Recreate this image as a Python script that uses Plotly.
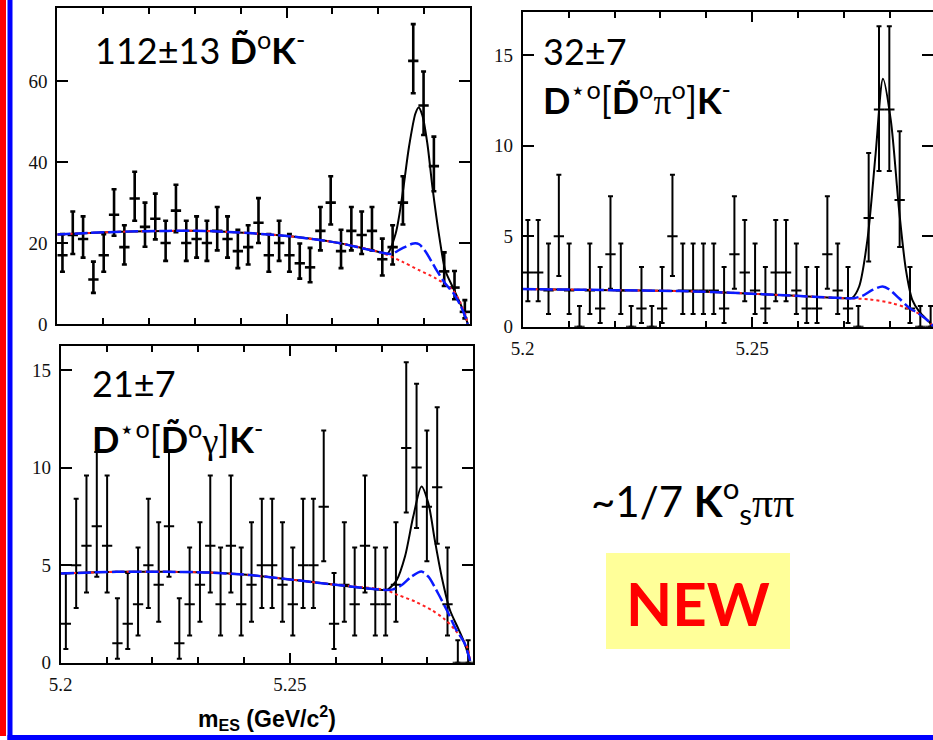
import numpy as np
import plotly.graph_objects as go

W, H = 933, 740

# ---------------- data ----------------
# m_ES binning (GeV/c^2): 40 bins from 5.20 to 5.29
mes_edges = np.linspace(5.2, 5.29, 41)
mes_centers = 0.5 * (mes_edges[:-1] + mes_edges[1:])
half_bin = 0.5 * (mes_edges[1] - mes_edges[0])

# Panel 1: D0 K-
dk_counts = [17, 22, 21, 11, 17, 27, 19, 31, 24, 26,
             20, 28, 20, 21, 20, 23, 21, 18, 19, 25,
             17, 20, 17, 15, 14, 23, 30, 18, 23, 22,
             23, 16, 19, 30, 65, 54, 39, 13, 9, 3]
dk_err_up = [5.2, 5.8, 5.6, 4.4, 5.2, 6.3, 5.4, 6.6, 6.0, 6.2,
             5.5, 6.4, 5.5, 5.6, 5.5, 5.9, 5.6, 5.3, 5.4, 6.1,
             5.2, 5.5, 5.2, 4.9, 4.8, 5.9, 6.5, 5.3, 5.9, 5.8,
             5.9, 5.1, 5.4, 6.5, 9.1, 8.4, 7.3, 4.7, 4.1, 2.9]
dk_err_dn = [4.1, 4.7, 4.6, 3.3, 4.1, 5.2, 4.3, 5.5, 4.9, 5.1,
             4.4, 5.3, 4.4, 4.6, 4.4, 4.8, 4.6, 4.2, 4.3, 5.0,
             4.1, 4.4, 4.1, 3.8, 3.7, 4.8, 5.4, 4.2, 4.8, 4.7,
             4.8, 4.0, 4.3, 5.4, 8.0, 7.3, 6.2, 3.6, 2.9, 1.6]
dk_bkg_x = [5.2, 5.207, 5.214, 5.224, 5.232, 5.2426, 5.2513, 5.2614, 5.2705,
            5.2752, 5.2789, 5.2825, 5.2862, 5.2880, 5.2891, 5.2895]
dk_bkg_y = [22.1, 22.5, 22.8, 23.0, 23.0, 22.4, 21.6, 20.0, 17.7,
            15.4, 13.3, 11.3, 8.4, 5.1, 1.8, 0.0]
dk_peak_x = [5.2, 5.207, 5.214, 5.224, 5.232, 5.2426, 5.2513, 5.2614, 5.2705,
             5.2728, 5.2752, 5.2777, 5.2789, 5.2803, 5.2825, 5.2846, 5.2864, 5.2880, 5.2891, 5.2895]
dk_peak_y = [22.1, 22.5, 22.8, 23.0, 23.0, 22.4, 21.6, 20.0, 17.7,
             17.3, 18.7, 19.9, 19.7, 17.9, 13.7, 10.0, 7.6, 4.4, 1.4, 0.0]
dk_tot_x = [5.2, 5.207, 5.214, 5.224, 5.232, 5.2426, 5.2513, 5.2614, 5.2705,
            5.2720, 5.2738, 5.2752, 5.2767, 5.2781, 5.2788, 5.2796, 5.2807, 5.2818,
            5.2833, 5.2846, 5.2862, 5.2880, 5.2891, 5.2895]
dk_tot_y = [22.1, 22.5, 22.8, 23.0, 23.0, 22.4, 21.6, 20.0, 17.7,
            17.4, 22.4, 31.4, 43.8, 52.0, 53.5, 51.6, 44.6, 33.9,
            21.6, 13.3, 9.2, 4.7, 1.5, 0.0]

# Panel 2: D*0[D0 pi0] K-
dspi_counts = [3, 3, 2, 5, 2, 0, 2, 1, 4, 2,
               0, 1, 0, 1, 5, 2, 2, 2, 2, 1,
               4, 3, 2, 1, 3, 3, 2, 1, 1, 4,
               2, 1, 0, 6, 12, 12, 7, 1, 0, 0]
dspi_err_up = [2.9, 2.9, 2.6, 3.4, 2.6, 1.15, 2.6, 2.3, 3.2, 2.6,
               1.15, 2.3, 1.15, 2.3, 3.4, 2.6, 2.6, 2.6, 2.6, 2.3,
               3.2, 2.9, 2.6, 2.3, 2.9, 2.9, 2.6, 2.3, 2.3, 3.2,
               2.6, 2.3, 1.15, 3.6, 4.6, 4.6, 3.8, 2.3, 1.15, 1.15]
dspi_err_dn = [1.6, 1.6, 1.3, 2.2, 1.3, 0, 1.3, 0.8, 1.9, 1.3,
               0, 0.8, 0, 0.8, 2.2, 1.3, 1.3, 1.3, 1.3, 0.8,
               1.9, 1.6, 1.3, 0.8, 1.6, 1.6, 1.3, 0.8, 0.8, 1.9,
               1.3, 0.8, 0, 2.4, 3.4, 3.4, 2.6, 0.8, 0, 0]
dspi_bkg_x = [5.2, 5.2197, 5.2342, 5.2414, 5.2487, 5.2559, 5.2632, 5.2704,
              5.2755, 5.2806, 5.2835, 5.2864, 5.2885, 5.2895]
dspi_bkg_y = [2.08, 2.02, 1.97, 1.91, 1.84, 1.75, 1.66, 1.57,
              1.51, 1.29, 1.05, 0.70, 0.28, 0.0]
dspi_peak_x = [5.2, 5.2197, 5.2342, 5.2414, 5.2487, 5.2559, 5.2632, 5.2704,
               5.2719, 5.2740, 5.2762, 5.2784, 5.2798, 5.2820, 5.2842, 5.2864, 5.2885, 5.2895]
dspi_peak_y = [2.08, 2.02, 1.97, 1.91, 1.84, 1.75, 1.66, 1.57,
               1.57, 1.70, 2.03, 2.22, 2.07, 1.57, 1.05, 0.70, 0.28, 0.0]
dspi_tot_x = [5.2, 5.2197, 5.2342, 5.2414, 5.2487, 5.2559, 5.2632, 5.2704,
              5.2718, 5.2733, 5.2751, 5.2769, 5.2785, 5.2802, 5.2820, 5.2835,
              5.2849, 5.2864, 5.2885, 5.2895]
dspi_tot_y = [2.08, 2.02, 1.97, 1.91, 1.84, 1.75, 1.66, 1.57,
              1.60, 2.22, 4.79, 9.58, 13.7, 11.4, 6.45, 3.13,
              1.47, 0.83, 0.28, 0.0]

# Panel 3: D*0[D0 gamma] K-
dsg_counts = [2, 5, 6, 7, 6, 1, 2, 3, 5, 4,
              7, 1, 3, 4, 6, 3, 6, 3, 4, 5,
              5, 4, 3, 5, 5, 8, 2, 4, 3, 6,
              3, 3, 4, 11, 10, 8, 9, 3, 0, 0]
dsg_err_up = [2.6, 3.4, 3.6, 3.8, 3.6, 2.3, 2.6, 2.9, 3.4, 3.2,
              3.8, 2.3, 2.9, 3.2, 3.6, 2.9, 3.6, 2.9, 3.2, 3.4,
              3.4, 3.2, 2.9, 3.4, 3.4, 3.9, 2.6, 3.2, 2.9, 3.6,
              2.9, 2.9, 3.2, 4.4, 4.3, 3.9, 4.1, 2.9, 1.15, 1.15]
dsg_err_dn = [1.3, 2.2, 2.4, 2.6, 2.4, 0.8, 1.3, 1.6, 2.2, 1.9,
              2.6, 0.8, 1.6, 1.9, 2.4, 1.6, 2.4, 1.6, 1.9, 2.2,
              2.2, 1.9, 1.6, 2.2, 2.2, 2.8, 1.3, 1.9, 1.6, 2.4,
              1.6, 1.6, 1.9, 3.3, 3.1, 2.8, 2.9, 1.6, 0, 0]
dsg_bkg_x = [5.2, 5.2122, 5.2231, 5.2326, 5.2413, 5.25, 5.2594, 5.2707,
             5.2736, 5.2773, 5.2809, 5.2838, 5.2860, 5.2878, 5.2889, 5.2893]
dsg_bkg_y = [4.57, 4.66, 4.66, 4.62, 4.49, 4.27, 4.01, 3.73,
             3.47, 3.13, 2.70, 2.22, 1.68, 1.16, 0.65, 0.1]
dsg_peak_x = [5.2, 5.2122, 5.2231, 5.2326, 5.2413, 5.25, 5.2594, 5.2707,
              5.2725, 5.2744, 5.2765, 5.2787, 5.2802, 5.2823, 5.2842, 5.2863, 5.2881, 5.2893]
dsg_peak_y = [4.57, 4.66, 4.66, 4.62, 4.49, 4.27, 4.01, 3.73,
              3.76, 3.98, 4.41, 4.67, 4.41, 3.56, 2.70, 1.68, 0.99, 0.1]
dsg_tot_x = [5.2, 5.2122, 5.2231, 5.2326, 5.2413, 5.25, 5.2594, 5.2707,
             5.2714, 5.2733, 5.2751, 5.2769, 5.2787, 5.2802, 5.2816, 5.2831,
             5.2849, 5.2867, 5.2881, 5.2893]
dsg_tot_y = [4.57, 4.66, 4.66, 4.62, 4.49, 4.27, 4.01, 3.73,
             3.76, 4.24, 5.44, 7.49, 9.03, 8.17, 6.29, 4.41,
             2.70, 1.76, 0.99, 0.1]

x_tickvals = [5.2, 5.25]
x_ticktext = ["5.2", "5.25"]
y1_tickvals = [0, 20, 40, 60]
y23_tickvals = [0, 5, 10, 15]

# ---------------- figure ----------------
def px(x):
    return x / W


def py(y):
    return 1 - y / H


fig = go.Figure()

panels = [
    ("x", "y", dk_counts, dk_err_up, dk_err_dn, dk_bkg_x, dk_bkg_y, dk_peak_x, dk_peak_y, dk_tot_x, dk_tot_y, 2.6),
    ("x2", "y2", dspi_counts, dspi_err_up, dspi_err_dn, dspi_bkg_x, dspi_bkg_y, dspi_peak_x, dspi_peak_y, dspi_tot_x, dspi_tot_y, 2.0),
    ("x3", "y3", dsg_counts, dsg_err_up, dsg_err_dn, dsg_bkg_x, dsg_bkg_y, dsg_peak_x, dsg_peak_y, dsg_tot_x, dsg_tot_y, 2.0),
]

for xa, ya, cnt, eu, ed, bx, by, pkx, pky, tx, ty, th in panels:
    fig.add_trace(go.Scatter(
        x=mes_centers, y=cnt, xaxis=xa, yaxis=ya, mode="markers",
        marker=dict(size=1, color="black"),
        error_y=dict(type="data", symmetric=False, array=eu, arrayminus=ed,
                     color="black", thickness=th, width=2.5),
        error_x=dict(type="constant", value=half_bin, color="black",
                     thickness=th, width=0),
        showlegend=False, hoverinfo="skip"))
    fig.add_trace(go.Scatter(
        x=tx, y=ty, xaxis=xa, yaxis=ya, mode="lines",
        line=dict(color="black", width=2, shape="spline", smoothing=0.8),
        showlegend=False, hoverinfo="skip"))
    fig.add_trace(go.Scatter(
        x=bx, y=by, xaxis=xa, yaxis=ya, mode="lines",
        line=dict(color="#ff2020", width=2, dash="3px,3px", shape="spline", smoothing=0.8),
        showlegend=False, hoverinfo="skip"))
    fig.add_trace(go.Scatter(
        x=pkx, y=pky, xaxis=xa, yaxis=ya, mode="lines",
        line=dict(color="#0a1aff", width=2.5, dash="13px,4px", shape="spline", smoothing=0.8),
        showlegend=False, hoverinfo="skip"))

tickfont = dict(family="Liberation Serif", size=19, color="#111")


def xaxis(domain, rng, yanchor, labels):
    return dict(
        domain=domain, range=rng, anchor=yanchor,
        tickmode="array", tickvals=x_tickvals, ticktext=x_ticktext,
        ticks="inside", ticklen=10, tickwidth=1.5, tickcolor="black",
        minor=dict(tickmode="linear", tick0=5.2, dtick=0.01, ticks="inside",
                   ticklen=6, tickwidth=1.5, tickcolor="black", showgrid=False),
        showline=True, linecolor="black", linewidth=2, mirror="allticks",
        showgrid=False, zeroline=False, showticklabels=labels,
        ticklabelstandoff=3,
        tickfont=tickfont, fixedrange=True)


def yaxis(domain, rng, xanchor, tv):
    return dict(
        domain=domain, range=rng, anchor=xanchor,
        tickmode="array", tickvals=tv, ticktext=[str(v) for v in tv],
        ticks="inside", ticklen=11, tickwidth=1.5, tickcolor="black",
        showline=True, linecolor="black", linewidth=2, mirror="allticks",
        showgrid=False, zeroline=False, tickfont=tickfont, fixedrange=True,
        ticklabelstandoff=4)


fig.update_layout(
    width=W, height=H, margin=dict(l=0, r=0, t=0, b=0),
    paper_bgcolor="white", plot_bgcolor="white", template="none",
    xaxis=xaxis([px(57.3), px(470)], [5.2, 5.29], "y", False),
    yaxis=yaxis([py(324), py(8.3)], [0, 78], "x", y1_tickvals),
    xaxis2=xaxis([px(522.7), 1.0], [5.2, 5.2 + (933 - 522.7) / 229.5 * 0.05], "y2", True),
    yaxis2=yaxis([py(326.7), py(11.7)], [0, 17.4], "x2", y23_tickvals),
    xaxis3=xaxis([px(60.7), px(473.3)], [5.2, 5.29], "y3", True),
    yaxis3=yaxis([py(662.7), py(345.7)], [0, 16.25], "x3", y23_tickvals),
)

big = dict(family="Lato", size=36, color="black")
serif = "font-family:'Liberation Serif'"

ann = [
    (93, 48, "112±13 <b>D\u0303</b><sup>o</sup><b>K</b><sup>-</sup>", "left", big),
    (541, 51, "32±7", "left", big),
    (541, 98, f"<b>D</b><sup>\u22c6o</sup>[<b>D\u0303</b><sup>o</sup><span style=\"{serif}\">π</span><sup>o</sup>]<b>K</b><sup>-</sup>", "left", big),
    (90, 383, "21±7", "left", big),
    (90, 437, f"<b>D</b><sup>\u22c6o</sup>[<b>D\u0303</b><sup>o</sup><span style=\"{serif}\">γ</span>]<b>K</b><sup>-</sup>", "left", big),
    (692, 500, f"~1/7 <b>K</b><sup>o</sup><sub>s</sub><span style=\"{serif}\">ππ</span>", "center", dict(family="Lato", size=42, color="black")),
    (698, 603, "<b>NEW</b>", "center", dict(family="Lato", size=60, color="#ff0000", weight=900)),
    (267, 718, "<b>m<sub>ES</sub> (GeV/c<sup>2</sup>)</b>", "center", dict(family="Liberation Sans", size=23, color="black")),
]
for x, y, t, xa, f in ann:
    fig.add_annotation(x=px(x), y=py(y), xref="paper", yref="paper", text=t,
                       showarrow=False, xanchor=xa, yanchor="middle", font=f)

shapes = [
    dict(type="rect", x0=px(606), x1=px(790), y0=py(649), y1=py(553), fillcolor="#ffff99", line=dict(width=0), layer="below"),
    dict(type="rect", x0=0, x1=px(6), y0=py(736), y1=1, fillcolor="#ff0000", line=dict(width=0)),
    dict(type="rect", x0=px(7.5), x1=px(12.5), y0=0, y1=1, fillcolor="#0000ff", line=dict(width=0)),
    dict(type="rect", x0=px(7.5), x1=1, y0=0, y1=py(735), fillcolor="#0000ff", line=dict(width=0)),
]
for s in shapes:
    s.update(xref="paper", yref="paper")
    fig.add_shape(**s)

fig.write_html("out.html", config={"displayModeBar": False},
               post_script="document.body.style.margin='0px';")
